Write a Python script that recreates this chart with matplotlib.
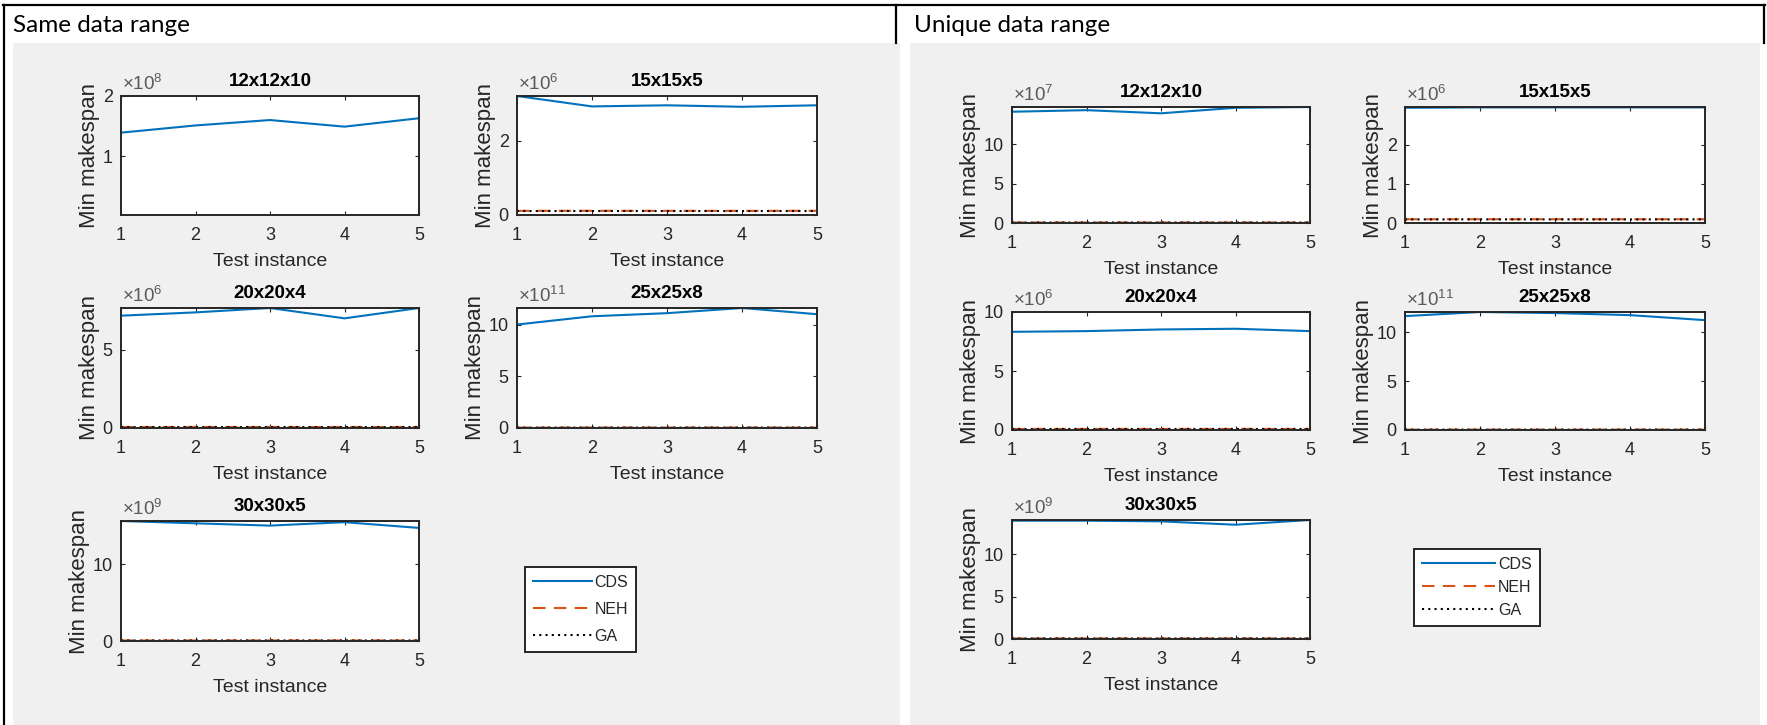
import matplotlib
matplotlib.use("Agg")
import matplotlib.pyplot as plt
from matplotlib.patches import Rectangle
from matplotlib.lines import Line2D
from matplotlib.ticker import FixedLocator, FuncFormatter

plt.rcParams['font.family'] = ['Liberation Sans', 'DejaVu Sans']
plt.rcParams['mathtext.fontset'] = 'custom'
plt.rcParams['mathtext.rm'] = 'Liberation Sans'
plt.rcParams['mathtext.it'] = 'Liberation Sans'

# ---- data -------------------------------------------------------------
instances = [1, 2, 3, 4, 5]
sizes = ['12x12x10', '15x15x5', '20x20x4', '25x25x8', '30x30x5']
methods = ['CDS', 'NEH', 'GA']

# Same data range
same_cds = [
    [1.39e8, 1.51e8, 1.60e8, 1.49e8, 1.63e8],
    [3.20e6, 2.92e6, 2.95e6, 2.91e6, 2.95e6],
    [7.17e6, 7.38e6, 7.66e6, 7.00e6, 7.66e6],
    [10.0e11, 10.8e11, 11.1e11, 11.6e11, 11.0e11],
    [15.6e9, 15.3e9, 15.0e9, 15.45e9, 14.7e9],
]
same_neh = [
    [1.10e5, 1.12e5, 1.11e5, 1.10e5, 1.13e5],
    [1.12e5, 1.13e5, 1.12e5, 1.11e5, 1.13e5],
    [6.5e4, 6.6e4, 6.6e4, 6.4e4, 6.7e4],
    [4.0e9, 4.1e9, 4.1e9, 4.2e9, 4.1e9],
    [7.0e7, 7.1e7, 7.0e7, 7.1e7, 7.0e7],
]
same_ga = [
    [1.05e5, 1.07e5, 1.06e5, 1.05e5, 1.08e5],
    [1.06e5, 1.08e5, 1.07e5, 1.06e5, 1.08e5],
    [6.1e4, 6.2e4, 6.2e4, 6.0e4, 6.3e4],
    [3.8e9, 3.9e9, 3.9e9, 4.0e9, 3.9e9],
    [6.7e7, 6.8e7, 6.7e7, 6.8e7, 6.7e7],
]
same_ylim = [(0.02e8, 2e8), (0, 3.2e6), (0, 7.66e6), (0, 11.6e11), (0, 15.6e9)]
same_yticks = [[1, 2], [0, 2], [0, 5], [0, 5, 10], [0, 10]]
same_exp = [8, 6, 6, 11, 9]

# Unique data range
unique_cds = [
    [14.1e7, 14.3e7, 13.9e7, 14.6e7, 14.7e7],
    [2.95e6, 2.96e6, 2.96e6, 2.96e6, 2.96e6],
    [8.32e6, 8.38e6, 8.52e6, 8.58e6, 8.38e6],
    [11.63e11, 12.05e11, 11.94e11, 11.73e11, 11.22e11],
    [13.98e9, 13.98e9, 13.90e9, 13.50e9, 14.06e9],
]
unique_neh = [
    [6.0e5, 6.1e5, 6.1e5, 6.2e5, 6.1e5],
    [9.6e4, 9.7e4, 9.7e4, 9.6e4, 9.7e4],
    [9.0e4, 9.1e4, 9.1e4, 9.2e4, 9.1e4],
    [4.0e9, 4.1e9, 4.1e9, 4.1e9, 4.0e9],
    [6.5e7, 6.6e7, 6.6e7, 6.6e7, 6.5e7],
]
unique_ga = [
    [5.7e5, 5.8e5, 5.8e5, 5.9e5, 5.8e5],
    [9.2e4, 9.3e4, 9.3e4, 9.2e4, 9.3e4],
    [8.6e4, 8.7e4, 8.7e4, 8.8e4, 8.7e4],
    [3.8e9, 3.9e9, 3.9e9, 3.9e9, 3.8e9],
    [6.2e7, 6.3e7, 6.3e7, 6.3e7, 6.2e7],
]
unique_ylim = [(0, 14.7e7), (0, 2.97e6), (0, 10e6), (0, 12.05e11), (0, 14.06e9)]
unique_yticks = [[0, 5, 10], [0, 1, 2], [0, 5, 10], [0, 5, 10], [0, 5, 10]]
unique_exp = [7, 6, 6, 11, 9]

panel_titles = ['Same data range', 'Unique data range']

# ---- layout helpers (pixel boxes on a 1767 x 725 canvas) ---------------
W, H = 1767, 725
fig = plt.figure(figsize=(W / 100, H / 100), dpi=100)
fig.patch.set_facecolor('white')


def box(x0, y0, x1, y1):
    return [x0 / W, 1 - y1 / H, (x1 - x0) / W, (y1 - y0) / H]


def fx(x):
    return x / W


def fy(y):
    return 1 - y / H


# grey figure backgrounds of the two table cells
for (x0, y0, x1, y1) in [(13, 43, 900, 725), (910, 43, 1760, 725)]:
    fig.patches.append(Rectangle((fx(x0), fy(y1)), fx(x1) - fx(x0), fy(y0) - fy(y1),
                                 transform=fig.transFigure, facecolor='#f0f0f0',
                                 edgecolor='none', zorder=-2))

# table rules
rules = [
    ((3, 1765), (5, 5)),
    ((4, 4), (5, 725)),
    ((896, 896), (5, 43)),
    ((1764, 1764), (5, 43)),
]
for xs, ys in rules:
    fig.lines.append(Line2D([fx(x) for x in xs], [fy(y) for y in ys],
                            transform=fig.transFigure, color='black', lw=1.6,
                            zorder=-1))

fig.text(fx(13), fy(26), panel_titles[0], family=['Lato', 'DejaVu Sans'],
         fontsize=17.5, va='center', ha='left', color='black')
fig.text(fx(914), fy(26), panel_titles[1], family=['Lato', 'DejaVu Sans'],
         fontsize=17.5, va='center', ha='left', color='black')

left_boxes = [(121, 96, 419, 215), (517, 96, 817, 215), (121, 308, 419, 428),
              (517, 308, 817, 428), (121, 521, 419, 641)]
right_boxes = [(1012, 107, 1310, 223), (1405, 107, 1705, 223), (1012, 312, 1310, 430),
               (1405, 312, 1705, 430), (1012, 520, 1310, 639)]

INK = '#262626'
colors = ['#0072BD', '#D95319', '#000000']
dash_patterns = [None, (6, 4), (1, 2)]


def draw_cell(boxes, cds, neh, ga, ylims, yticks, exps):
    handles = None
    for i, b in enumerate(boxes):
        ax = fig.add_axes(box(*b))
        ax.set_facecolor('white')
        lines = []
        for series, c, dp in zip((cds[i], neh[i], ga[i]), colors, dash_patterns):
            ln, = ax.plot(instances, series, color=c, lw=1.5)
            if dp is not None:
                ln.set_dashes(dp)
            lines.append(ln)
        handles = lines
        ax.set_xlim(1, 5)
        ax.set_ylim(*ylims[i])
        scale = 10.0 ** exps[i]
        ax.xaxis.set_major_locator(FixedLocator(instances))
        ax.yaxis.set_major_locator(FixedLocator([t * scale for t in yticks[i]]))
        ax.yaxis.set_major_formatter(FuncFormatter(lambda v, p, s=scale: f"{v / s:g}"))
        ax.tick_params(direction='in', length=3, width=0.8, top=True, right=True,
                       labelsize=13, colors=INK)
        ax.tick_params(axis='x', pad=8.5)
        ax.tick_params(axis='y', pad=6)
        for sp in ax.spines.values():
            sp.set_color(INK)
            sp.set_linewidth(1.4)
        ax.set_title(sizes[i], fontsize=13.5, fontweight='bold', color='black', pad=7.5)
        ax.set_xlabel('Test instance', fontsize=14, color=INK, labelpad=6.5)
        ax.set_ylabel('Min makespan', fontsize=16, color=INK, labelpad=2)
        ax.text(0.005, 1.02, '×10$^{%d}$' % exps[i], transform=ax.transAxes,
                fontsize=13.5, color='#5a5a5a', ha='left', va='bottom')
    return handles


h_left = draw_cell(left_boxes, same_cds, same_neh, same_ga, same_ylim, same_yticks, same_exp)
h_right = draw_cell(right_boxes, unique_cds, unique_neh, unique_ga, unique_ylim,
                    unique_yticks, unique_exp)

legend_specs = [(h_left, (525, 567), 11.5, 0.75, 3.7),
                (h_right, (1414, 549), 11.5, 0.5, 4.6)]
for handles, (lx, ly), fs, spacing, hlen in legend_specs:
    leg = fig.legend(handles, methods, loc='upper left',
                     bbox_to_anchor=(fx(lx), fy(ly)), bbox_transform=fig.transFigure,
                     fontsize=fs, frameon=True, fancybox=False, borderaxespad=0,
                     handlelength=hlen, handletextpad=0.15, labelspacing=spacing,
                     borderpad=0.5)
    leg.get_frame().set_edgecolor(INK)
    leg.get_frame().set_linewidth(1.4)
    leg.get_frame().set_alpha(1)
    for t in leg.get_texts():
        t.set_color(INK)

fig.savefig('out.png', dpi=100, facecolor='white')
